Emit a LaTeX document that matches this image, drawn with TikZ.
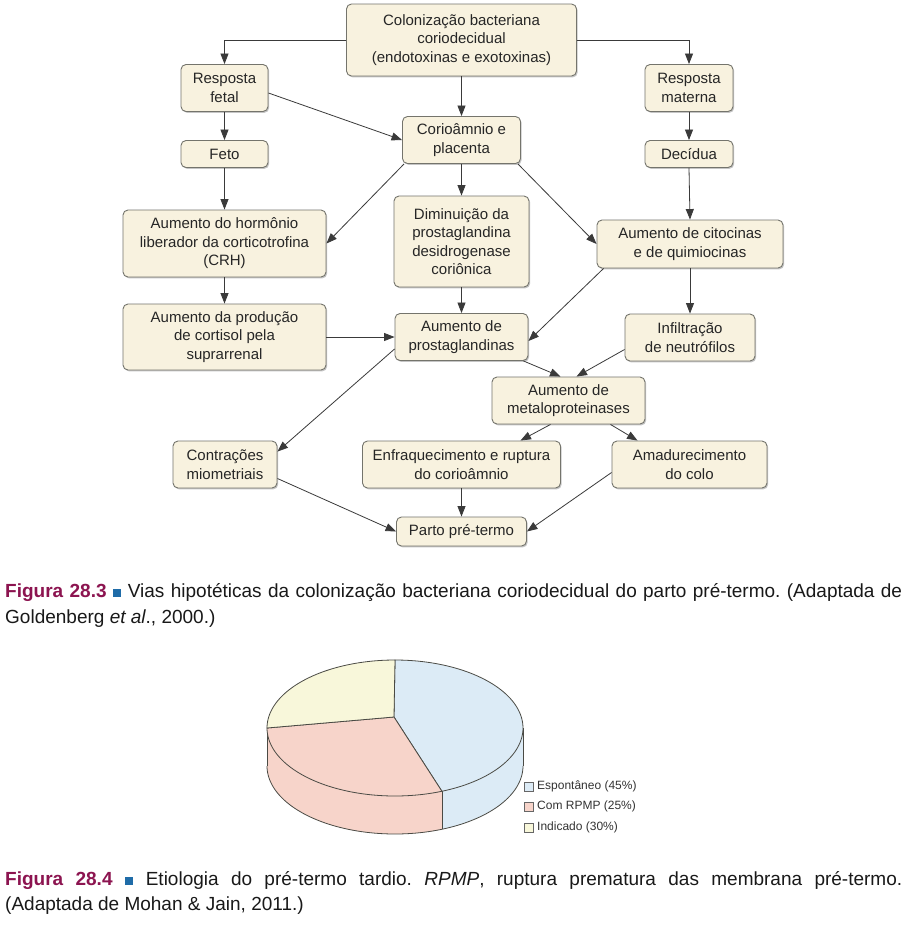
\documentclass[tikz,border=0pt]{standalone}
\usepackage{fontspec}
\setmainfont{Liberation Sans}
\usetikzlibrary{arrows.meta,shadows}
\definecolor{boxfill}{HTML}{F8F2DF}
\definecolor{boxline}{HTML}{74746C}
\definecolor{lnk}{HTML}{3A3A3A}
\definecolor{pieblue}{HTML}{DCEBF6}
\definecolor{piepink}{HTML}{F7D4CA}
\definecolor{pieyel}{HTML}{F8F7DA}
\definecolor{pieline}{HTML}{4A4A44}
\definecolor{figmag}{HTML}{8C1450}
\definecolor{sqblue}{HTML}{1F6CA8}
\frenchspacing
\begin{document}
\begin{tikzpicture}[x=1pt,y=-1pt,
  box/.style={draw=boxline, line width=0.9pt, fill=boxfill, rounded corners=5pt,
    align=center, font=\fontsize{15}{18.5}\selectfont, text=black!85, inner sep=0pt,
    drop shadow={shadow xshift=1.2pt, shadow yshift=-1.4pt, fill=black!45, opacity=0.5}},
  arr/.style={draw=lnk, line width=0.8pt, -{Triangle[length=10.5pt,width=8pt]}},
  pieedge/.style={draw=pieline, line width=0.8pt},
  legtext/.style={anchor=west, inner sep=0pt, font=\fontsize{12}{14}\selectfont, text=black!80},
  legbox/.style={draw=gray!80!black, line width=0.6pt}
]
\useasboundingbox (0,0) rectangle (906,929);
\fill[white] (0,0) rectangle (906,929);

% ---------------- flowchart nodes ----------------
\node[box, minimum width=230pt, minimum height=72pt] (top) at (461.5,40) {Colonização bacteriana\\coriodecidual\\(endotoxinas e exotoxinas)};
\node[box, minimum width=87pt, minimum height=47pt] (rfetal) at (224.5,88) {Resposta\\fetal};
\node[box, minimum width=88pt, minimum height=47pt] (rmat) at (689,88) {Resposta\\materna};
\node[box, minimum width=118pt, minimum height=47pt] (corio) at (461.5,140) {Corioâmnio e\\placenta};
\node[box, minimum width=87pt, minimum height=27pt] (feto) at (224.5,154) {Feto};
\node[box, minimum width=88pt, minimum height=27pt] (decid) at (689,154) {Decídua};
\node[box, minimum width=203pt, minimum height=67pt] (crh) at (224.5,243.5) {Aumento do hormônio\\liberador da corticotrofina\\(CRH)};
\node[box, minimum width=135pt, minimum height=91pt] (dimin) at (461.5,241.5) {Diminuição da\\prostaglandina\\desidrogenase\\coriônica};
\node[box, minimum width=186pt, minimum height=48pt] (cito) at (690,244) {Aumento de citocinas\\e de quimiocinas};
\node[box, minimum width=203pt, minimum height=66pt] (cort) at (224.5,337) {Aumento da produção\\de cortisol pela\\suprarrenal};
\node[box, minimum width=133pt, minimum height=47pt] (prost) at (461.5,337) {Aumento de\\prostaglandinas};
\node[box, minimum width=130pt, minimum height=47pt] (infil) at (690,337.5) {Infiltração\\de neutrófilos};
\node[box, minimum width=153pt, minimum height=47pt] (metal) at (568.5,400.5) {Aumento de\\metaloproteinases};
\node[box, minimum width=104pt, minimum height=47pt] (contr) at (225,464.5) {Contrações\\miometriais};
\node[box, minimum width=198pt, minimum height=47pt] (enfraq) at (461.5,464.5) {Enfraquecimento e ruptura\\do corioâmnio};
\node[box, minimum width=155pt, minimum height=47pt] (amad) at (689.5,464.5) {Amadurecimento\\do colo};
\node[box, minimum width=130pt, minimum height=29pt] (parto) at (461.5,531.5) {Parto pré-termo};

% ---------------- connectors ----------------
\draw[arr] (top.west) -| (rfetal.north);
\draw[arr] (top.east) -| (rmat.north);
\draw[arr] (top.south) -- (corio.north);
\draw[arr] ([yshift=-5pt]rfetal.east) -- (corio.west);
\draw[arr] (rfetal.south) -- (feto.north);
\draw[arr] (feto.south) -- (crh.north);
\draw[arr] ([xshift=2pt]corio.south west) -- (crh.east);
\draw[arr] (corio.south) -- (dimin.north);
\draw[arr] ([xshift=-3pt]corio.south east) -- (cito.west);
\draw[arr] (rmat.south) -- (decid.north);
\draw[arr] (decid.south) -- (cito.north);
\draw[arr] (crh.south) -- (cort.north);
\draw[arr] (cort.east) -- (prost.west);
\draw[arr] (dimin.south) -- (prost.north);
\draw[arr] ([xshift=7pt]cito.south west) -- ([yshift=-4pt]prost.east);
\draw[arr] (cito.south) -- (infil.north);
\draw[arr] ([xshift=-5pt]prost.south east) -- ([xshift=-8pt]metal.north);
\draw[arr] ([yshift=-12pt]infil.west) -- ([xshift=8pt]metal.north);
\draw[arr] ([yshift=-12pt]prost.west) -- ([yshift=-11pt]contr.north east);
\draw[arr] ([xshift=-18pt]metal.south) -- ([xshift=59pt]enfraq.north);
\draw[arr] ([xshift=42pt]metal.south) -- ([xshift=-52pt]amad.north);
\draw[arr] ([yshift=-14pt]contr.east) -- (parto.west);
\draw[arr] (enfraq.south) -- (parto.north);
\draw[arr] ([yshift=-8pt]amad.west) -- (parto.east);

% ---------------- pie chart ----------------
\coordinate (pc) at (394,717);
% sides
\fill[pieblue] plot[domain=0:68.5, samples=40] ({395+128*cos(\x)},{728+68*sin(\x)})
  -- plot[domain=68.5:0, samples=40] ({395+128*cos(\x)},{766+68*sin(\x)}) -- cycle;
\fill[piepink] plot[domain=68.5:180, samples=50] ({395+128*cos(\x)},{728+68*sin(\x)})
  -- plot[domain=180:68.5, samples=50] ({395+128*cos(\x)},{766+68*sin(\x)}) -- cycle;
\draw[pieedge] plot[domain=0:180, samples=90] ({395+128*cos(\x)},{766+68*sin(\x)});
\draw[pieedge] (523,728) -- (523,766);
\draw[pieedge] (267,728) -- (267,766);
\draw[pieedge] ({395+128*cos(68.5)},{728+68*sin(68.5)}) -- ({395+128*cos(68.5)},{766+68*sin(68.5)});
% top face
\filldraw[pieedge, fill=pieblue] (pc) -- plot[domain=-90:68.5, samples=80] ({395+128*cos(\x)},{728+68*sin(\x)}) -- cycle;
\filldraw[pieedge, fill=piepink] (pc) -- plot[domain=68.5:180, samples=60] ({395+128*cos(\x)},{728+68*sin(\x)}) -- cycle;
\filldraw[pieedge, fill=pieyel] (pc) -- plot[domain=180:270, samples=50] ({395+128*cos(\x)},{728+68*sin(\x)}) -- cycle;

% legend
\draw[legbox, fill=pieblue] (524,782) rectangle (533,791);
\node[legtext] (lg1) at (537,786.5) {Espontâneo (45\%)};
\draw[legbox, fill=piepink] (524,802) rectangle (533,811);
\node[legtext] (lg2) at (537,806.5) {Com RPMP (25\%)};
\draw[legbox, fill=pieyel] (524,823) rectangle (533,832);
\node[legtext] (lg3) at (537,827.5) {Indicado (30\%)};

% ---------------- captions ----------------
\node[anchor=base west, inner sep=0pt, text=black!90] (cap1a) at (5,597)
 {\fontsize{19}{26}\selectfont\hbox to 897pt{\textcolor{figmag}{\textbf{Figura 28.3}} \textcolor{sqblue}{\rule{8.5pt}{8.5pt}} Vias hipotéticas da colonização bacteriana coriodecidual do parto pré-termo. (Adaptada de}};
\node[anchor=base west, inner sep=0pt, text=black!90] (cap1b) at (5,623)
 {\fontsize{19}{26}\selectfont Goldenberg \textit{et al}., 2000.)};
\node[anchor=base west, inner sep=0pt, text=black!90] (cap2a) at (5,885)
 {\fontsize{19}{26}\selectfont\hbox to 897pt{\textcolor{figmag}{\textbf{Figura 28.4}} \textcolor{sqblue}{\rule{8.5pt}{8.5pt}} Etiologia do pré-termo tardio. \textit{RPMP}, ruptura prematura das membrana pré-termo.}};
\node[anchor=base west, inner sep=0pt, text=black!90] (cap2b) at (5,910)
 {\fontsize{19}{26}\selectfont (Adaptada de Mohan \& Jain, 2011.)};
\end{tikzpicture}
\end{document}
